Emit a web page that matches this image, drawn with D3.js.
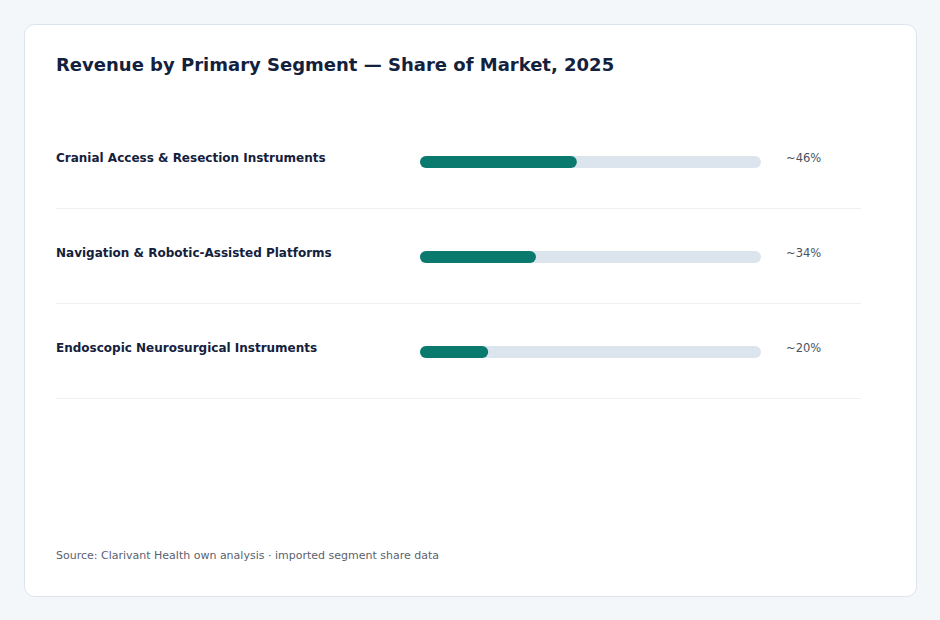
<!DOCTYPE html>
<html>
<head>
<meta charset="utf-8">
<script src="https://cdn.jsdelivr.net/npm/d3@7/dist/d3.min.js"></script>
<style>
  html, body { margin: 0; padding: 0; background: #f4f7fa; }
  svg { display: block; }
</style>
</head>
<body>
<svg id="chart" width="940" height="620"></svg>
<script>
const title = "Revenue by Primary Segment — Share of Market, 2025";
const categories = [
  "Cranial Access & Resection Instruments",
  "Navigation & Robotic-Assisted Platforms",
  "Endoscopic Neurosurgical Instruments"
];
const shares = [46, 34, 20];
const valueLabels = ["~46%", "~34%", "~20%"];
const source = "Source: Clarivant Health own analysis · imported segment share data";

const font = "'DejaVu Sans', sans-serif";
const svg = d3.select("#chart");

svg.append("rect")
  .attr("x", 24.5).attr("y", 24.5)
  .attr("width", 892).attr("height", 572)
  .attr("rx", 10).attr("ry", 10)
  .attr("fill", "#ffffff")
  .attr("stroke", "#dde3ea").attr("stroke-width", 1);

svg.append("text")
  .attr("x", 56).attr("y", 71)
  .attr("font-family", font).attr("font-size", 18).attr("font-weight", "bold")
  .attr("fill", "#14213d")
  .text(title);

const x = d3.scaleLinear().domain([0, 100]).range([420, 761]);
const y = d3.scaleBand().domain(categories).range([115, 400]).padding(0);
const rowCenter = c => y(c) + 47;

const rows = svg.append("g").selectAll("g").data(categories).join("g");

rows.append("text")
  .attr("x", 56).attr("y", c => rowCenter(c))
  .attr("font-family", font).attr("font-size", 12).attr("font-weight", "bold")
  .attr("fill", "#14213d")
  .text(c => c);

rows.append("rect")
  .attr("x", x(0)).attr("y", c => rowCenter(c) - 6)
  .attr("width", x(100) - x(0)).attr("height", 12)
  .attr("rx", 6).attr("ry", 6)
  .attr("fill", "#dce5ee");

rows.append("rect")
  .attr("x", x(0)).attr("y", c => rowCenter(c) - 6)
  .attr("width", (c, i) => x(shares[i]) - x(0)).attr("height", 12)
  .attr("rx", 6).attr("ry", 6)
  .attr("fill", "#0b7a6e");

rows.append("text")
  .attr("x", 786).attr("y", c => rowCenter(c))
  .attr("font-family", font).attr("font-size", 11.5)
  .attr("fill", "#4a5260")
  .text((c, i) => valueLabels[i]);

rows.append("line")
  .attr("x1", 56).attr("x2", 861)
  .attr("y1", c => y(c) + y.bandwidth() - 1.5).attr("y2", c => y(c) + y.bandwidth() - 1.5)
  .attr("stroke", "#eef1f4").attr("stroke-width", 1);

svg.append("text")
  .attr("x", 56).attr("y", 559)
  .attr("font-family", font).attr("font-size", 11)
  .attr("fill", "#5a6270")
  .text(source);
</script>
</body>
</html>
